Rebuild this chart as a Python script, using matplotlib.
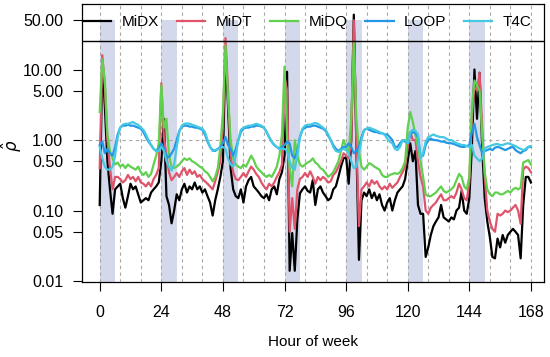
import numpy as np
import matplotlib
matplotlib.use("Agg")
import matplotlib.pyplot as plt

plt.rcParams['font.family'] = ['Liberation Sans', 'DejaVu Sans']

# hour of week 0..168
hours = list(range(169))

midx = [0.12, 12, 3, 0.5, 0.2, 0.09, 0.2, 0.22, 0.24, 0.15, 0.11, 0.16, 0.24, 0.2, 0.22, 0.17, 0.13, 0.14, 0.15, 0.14, 0.18, 0.2, 0.22, 0.25,
        0.5, 2.0, 0.16, 0.12, 0.066, 0.1, 0.17, 0.14, 0.2, 0.24, 0.18, 0.22, 0.2, 0.25, 0.2, 0.22, 0.18, 0.2, 0.16, 0.13, 0.085, 0.14, 0.2, 0.3,
        0.5, 20, 3, 0.4, 0.2, 0.16, 0.15, 0.2, 0.13, 0.22, 0.27, 0.3, 0.22, 0.2, 0.18, 0.16, 0.15, 0.17, 0.14, 0.2, 0.22, 0.17, 0.28, 0.35,
        0.6, 9.3, 0.014, 0.048, 0.014, 0.075, 0.175, 0.2, 0.22, 0.19, 0.18, 0.27, 0.12, 0.2, 0.22, 0.18, 0.16, 0.14, 0.15, 0.2, 0.22, 0.3, 0.42, 0.55,
        0.57, 0.24, 1.0, 60, 0.8, 0.02, 0.14, 0.18, 0.16, 0.2, 0.15, 0.18, 0.14, 0.17, 0.12, 0.1, 0.13, 0.15, 0.1, 0.14, 0.18, 0.2, 0.22, 0.28,
        0.5, 0.9, 0.5, 0.7, 0.12, 0.09, 0.09, 0.022, 0.03, 0.045, 0.06, 0.07, 0.08, 0.12, 0.08, 0.075, 0.07, 0.08, 0.075, 0.1, 0.11, 0.19, 0.1, 0.09,
        0.15, 0.8, 10, 2, 9, 0.8, 0.15, 0.07, 0.042, 0.022, 0.021, 0.04, 0.03, 0.045, 0.035, 0.045, 0.05, 0.055, 0.05, 0.045, 0.021, 0.12, 0.3, 0.3,
        0.25]

midt = [0.4, 16, 6, 1.0, 0.4, 0.2, 0.3, 0.3, 0.28, 0.25, 0.27, 0.32, 0.28, 0.3, 0.26, 0.3, 0.25, 0.24, 0.22, 0.25, 0.22, 0.28, 0.32, 0.4,
        6.4, 1.1, 0.6, 0.35, 0.27, 0.3, 0.34, 0.3, 0.36, 0.4, 0.32, 0.38, 0.33, 0.36, 0.3, 0.32, 0.28, 0.26, 0.24, 0.22, 0.2, 0.26, 0.35, 0.5,
        1.5, 28, 5, 0.6, 0.35, 0.28, 0.27, 0.3, 0.34, 0.3, 0.36, 0.42, 0.38, 0.33, 0.3, 0.25, 0.22, 0.2, 0.24, 0.22, 0.25, 0.3, 0.35, 0.45,
        8, 5, 0.05, 0.15, 0.055, 0.2, 0.28, 0.3, 0.34, 0.3, 0.36, 0.3, 0.24, 0.3, 0.27, 0.3, 0.28, 0.25, 0.26, 0.32, 0.35, 0.42, 0.5, 0.65,
        0.6, 0.55, 1.0, 50, 0.9, 0.06, 0.2, 0.22, 0.25, 0.22, 0.27, 0.24, 0.26, 0.22, 0.2, 0.22, 0.2, 0.24, 0.21, 0.23, 0.25, 0.3, 0.35, 0.42,
        0.8, 1.3, 1.0, 1.0, 0.5, 0.3, 0.22, 0.1, 0.09, 0.11, 0.12, 0.13, 0.15, 0.17, 0.14, 0.14, 0.15, 0.16, 0.15, 0.18, 0.24, 0.2, 0.15, 0.14,
        0.25, 2, 6, 5, 9, 1.5, 0.3, 0.1, 0.07, 0.055, 0.05, 0.09, 0.085, 0.09, 0.1, 0.095, 0.1, 0.11, 0.12, 0.1, 0.065, 0.38, 0.42, 0.4,
        0.35]

midq = [2.5, 14, 7, 1.2, 0.7, 0.55, 0.45, 0.48, 0.42, 0.45, 0.4, 0.45, 0.42, 0.4, 0.38, 0.42, 0.35, 0.32, 0.35, 0.3, 0.33, 0.45, 0.6, 0.9,
        6.0, 1.5, 2.0, 0.6, 0.42, 0.4, 0.42, 0.45, 0.5, 0.55, 0.52, 0.55, 0.5, 0.48, 0.45, 0.42, 0.4, 0.36, 0.34, 0.3, 0.26, 0.3, 0.4, 0.8,
        2.5, 22, 4, 1.0, 0.55, 0.45, 0.42, 0.4, 0.45, 0.42, 0.5, 0.6, 0.52, 0.42, 0.38, 0.35, 0.32, 0.3, 0.32, 0.3, 0.35, 0.42, 0.6, 1.2,
        11, 1.0, 0.4, 0.22, 1.0, 0.6, 0.45, 0.42, 0.45, 0.48, 0.5, 0.55, 0.48, 0.45, 0.4, 0.38, 0.34, 0.3, 0.32, 0.35, 0.42, 0.5, 0.7, 1.0,
        0.8, 0.65, 2.0, 24, 2.0, 0.7, 0.42, 0.38, 0.42, 0.47, 0.45, 0.42, 0.4, 0.38, 0.32, 0.3, 0.3, 0.32, 0.33, 0.34, 0.33, 0.35, 0.4, 0.5,
        1.5, 2.5, 1.8, 1.2, 0.8, 0.5, 0.3, 0.17, 0.16, 0.16, 0.17, 0.18, 0.2, 0.22, 0.19, 0.18, 0.19, 0.2, 0.22, 0.27, 0.33, 0.3, 0.22, 0.2,
        0.3, 3, 7, 6, 5, 1.2, 0.35, 0.2, 0.17, 0.16, 0.18, 0.18, 0.17, 0.17, 0.18, 0.19, 0.18, 0.2, 0.21, 0.2, 0.21, 0.48, 0.5, 0.52,
        0.45]

loop = [0.85, 0.95, 0.65, 0.75, 0.65, 0.6, 0.8, 1.2, 1.5, 1.6, 1.6, 1.65, 1.6, 1.6, 1.55, 1.5, 1.45, 1.3, 1.1, 0.95, 0.85, 0.75, 0.7, 0.75,
        0.9, 0.75, 0.6, 0.57, 0.65, 0.75, 1.0, 1.35, 1.55, 1.6, 1.6, 1.55, 1.55, 1.5, 1.5, 1.45, 1.4, 1.2, 0.95, 0.8, 0.72, 0.7, 0.75, 0.8,
        0.9, 1.1, 0.85, 0.75, 0.6, 0.75, 1.0, 1.3, 1.45, 1.5, 1.5, 1.55, 1.55, 1.6, 1.6, 1.55, 1.5, 1.3, 1.1, 0.95, 0.85, 0.8, 0.75, 0.8,
        0.85, 0.95, 0.9, 0.6, 0.55, 0.7, 1.1, 1.4, 1.5, 1.55, 1.55, 1.6, 1.6, 1.55, 1.5, 1.45, 1.35, 1.15, 1.0, 0.85, 0.75, 0.7, 0.75, 0.8,
        0.8, 0.9, 0.8, 0.65, 0.7, 0.8, 1.1, 1.39, 1.45, 1.4, 1.35, 1.3, 1.3, 1.25, 1.25, 1.2, 1.2, 1.1, 1.0, 0.8, 0.8, 0.9, 1.0, 0.95,
        0.9, 1.2, 1.3, 1.25, 1.1, 0.6, 0.6, 0.85, 1.0, 1.05, 1.0, 1.0, 0.98, 0.95, 0.95, 0.92, 0.9, 0.9, 0.88, 0.85, 0.82, 0.8, 0.8, 0.82,
        0.85, 1.3, 1.7, 1.1, 0.85, 0.65, 0.7, 0.72, 0.75, 0.72, 0.78, 0.8, 0.78, 0.75, 0.72, 0.75, 0.78, 0.8, 0.72, 0.68, 0.65, 0.7, 0.72, 0.8,
        0.8]

t4c = [0.8, 0.55, 0.42, 0.38, 0.38, 0.42, 0.6, 1.1, 1.5, 1.65, 1.7, 1.7, 1.75, 1.8, 1.7, 1.65, 1.5, 1.4, 1.2, 1.0, 0.85, 0.75, 0.7, 0.7,
       0.8, 0.7, 0.5, 0.42, 0.37, 0.45, 0.8, 1.3, 1.6, 1.7, 1.72, 1.7, 1.65, 1.6, 1.55, 1.5, 1.45, 1.3, 1.0, 0.8, 0.7, 0.72, 0.75, 0.78,
       0.8, 0.75, 0.55, 0.45, 0.42, 0.6, 1.0, 1.4, 1.5, 1.55, 1.6, 1.6, 1.65, 1.7, 1.65, 1.6, 1.5, 1.3, 1.1, 0.95, 0.85, 0.8, 0.75, 0.75,
       0.75, 0.7, 0.5, 0.4, 0.38, 0.6, 1.1, 1.45, 1.6, 1.65, 1.65, 1.7, 1.75, 1.7, 1.6, 1.5, 1.4, 1.2, 1.0, 0.8, 0.7, 0.68, 0.72, 0.75,
       0.72, 0.65, 0.5, 0.4, 0.42, 0.65, 1.0, 1.39, 1.45, 1.5, 1.45, 1.4, 1.35, 1.3, 1.25, 1.2, 1.05, 0.95, 0.9, 0.75, 0.72, 0.8, 1.0, 1.0,
       0.9, 1.3, 1.4, 1.35, 1.2, 0.55, 0.65, 0.95, 1.1, 1.15, 1.2, 1.15, 1.12, 1.1, 1.1, 1.05, 1.0, 1.0, 0.95, 0.9, 0.88, 0.85, 0.85, 0.82,
       0.8, 0.85, 0.6, 0.55, 0.5, 0.55, 0.75, 0.8, 0.82, 0.85, 0.87, 0.88, 0.85, 0.85, 0.88, 0.9, 0.88, 0.85, 0.82, 0.78, 0.75, 0.72, 0.75, 0.8,
       0.82]

series = ['MiDX', 'MiDT', 'MiDQ', 'LOOP', 'T4C']
colors = ['black', '#DF536B', '#61D04F', '#2297E6', '#45C8E2']
band_starts = [0, 24, 48, 72, 96, 120, 144]
grid_hours = list(range(0, 169, 8))
xticks = [0, 24, 48, 72, 96, 120, 144, 168]
yticks = [0.01, 0.05, 0.1, 0.5, 1, 5, 10, 50]

fig = plt.figure(figsize=(5.5, 3.57), dpi=100)
ax = fig.add_axes([82/550, 1-282/357, 462/550, 278/357])
ax.set_yscale('log')

for b in band_starts:
    ax.fill_between([b, b+6], 0.001, 50, color='#D3D8EA', lw=0, zorder=0)
for g in grid_hours:
    ax.axvline(g, color='#A8A8A8', lw=0.8, ls=(0, (3, 3)), zorder=1)
ax.axhline(1, color='#A8A8A8', lw=0.8, ls=(0, (3, 3)), zorder=1)
ax.axhline(25, color='black', lw=1.0, zorder=3)

for name, vals, c in zip(series, [midx, midt, midq, loop, t4c], colors):
    ax.plot(hours, vals, color=c, lw=1.6, label=name, zorder=2)

ax.set_xlim(-6.9, 173.1)
ax.set_ylim(0.0097, 85)
ax.set_xticks(xticks)
ax.set_yticks(yticks)
ax.set_yticklabels(['%.2f' % v for v in yticks])
ax.minorticks_off()
ax.tick_params(axis='both', labelsize=11.5, length=6.5, width=0.8)
ax.tick_params(axis='x', pad=10)
ax.tick_params(axis='y', pad=7)
for s in ax.spines.values():
    s.set_linewidth(0.9)

ax.set_xlabel('Hour of week', fontsize=11)
ax.xaxis.set_label_coords(0.5, -0.19)
ax.set_ylabel(r'$\hat{\rho}$', fontsize=12)
ax.yaxis.set_label_coords(-0.125, 0.49)

ax.legend(loc='center left', bbox_to_anchor=(0.002, 0.935),
          ncol=5, frameon=False, fontsize=11, handlelength=1.85, handletextpad=0.7,
          columnspacing=1.15, borderaxespad=0, borderpad=0)

fig.savefig('out.png', dpi=100)
